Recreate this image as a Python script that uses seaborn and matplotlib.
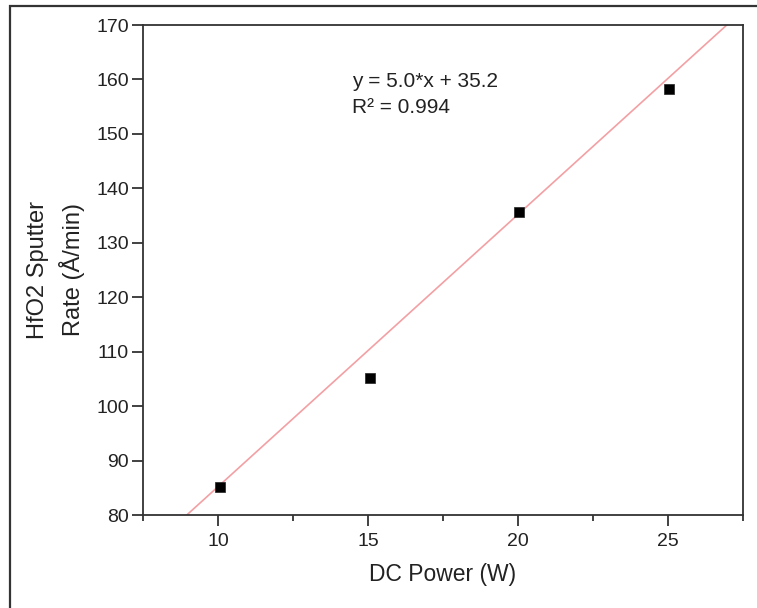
import numpy as np
import pandas as pd
import matplotlib
matplotlib.use("Agg")
import matplotlib.pyplot as plt
from matplotlib.ticker import MultipleLocator
from matplotlib.patches import Rectangle
import seaborn as sns

# Data
power = [10.07, 15.07, 20.03, 25.03]
rate = [85.1, 105.2, 135.7, 158.3]
slope = 5.0
intercept = 35.2
r2 = 0.994
x_limits = [7.5, 27.5]
y_limits = [80, 170]

sns.set_theme(style="white")
plt.rcParams['font.family'] = ['Liberation Sans', 'DejaVu Sans']
plt.rcParams['text.color'] = '#222222'

fig = plt.figure(figsize=(7.57, 6.08), dpi=100)
W, H = 757, 608
ax = fig.add_axes([143 / W, 1 - 515 / H, (743 - 143) / W, (515 - 25) / H])

# outer frame (only left and top visible)
fig.add_artist(Rectangle((10 / W, -0.1), 1.2, 1 - 6 / H + 0.1, transform=fig.transFigure,
                         fill=False, edgecolor='#333333', linewidth=1.6, clip_on=False))

df = pd.DataFrame({'power': power, 'rate': rate})
fit_x = np.array(x_limits)
fit = pd.DataFrame({'x': fit_x, 'y': slope * fit_x + intercept})
sns.lineplot(data=fit, x='x', y='y', ax=ax, color='#f3a0a4', linewidth=1.2)
sns.scatterplot(data=df, x='power', y='rate', ax=ax, marker='s', s=45,
                color='black', edgecolor='#222222', linewidth=0.5, zorder=5)

ax.set_xlim(x_limits)
ax.set_ylim(y_limits)
ax.xaxis.set_major_locator(MultipleLocator(5))
ax.xaxis.set_minor_locator(MultipleLocator(2.5))
ax.yaxis.set_major_locator(MultipleLocator(10))

for s in ax.spines.values():
    s.set_color('#333333')
    s.set_linewidth(1.3)

ax.tick_params(axis='both', which='major', direction='out', length=8, width=1.3,
               color='#333333', labelsize=14, labelcolor='#222222',
               bottom=True, left=True)
ax.tick_params(axis='y', which='major', pad=2)
ax.tick_params(axis='x', which='major', pad=5)
ax.tick_params(axis='x', which='minor', direction='out', length=4, width=1.3,
               color='#333333', bottom=True)

ax.set_xlabel('DC Power (W)', fontsize=16.5, labelpad=9, color='#222222')
ax.set_ylabel('HfO2 Sputter\nRate (Å/min)', fontsize=17, labelpad=8,
              color='#222222', linespacing=1.5)

ax.text(14.48, 158.7, f'y = {slope:.1f}*x + {intercept:.1f}',
        fontsize=15, va='baseline', ha='left', color='#222222')
ax.text(14.48, 153.9, f'R² = {r2:.3f}',
        fontsize=15, va='baseline', ha='left', color='#222222')

fig.savefig('out.png', dpi=100)
